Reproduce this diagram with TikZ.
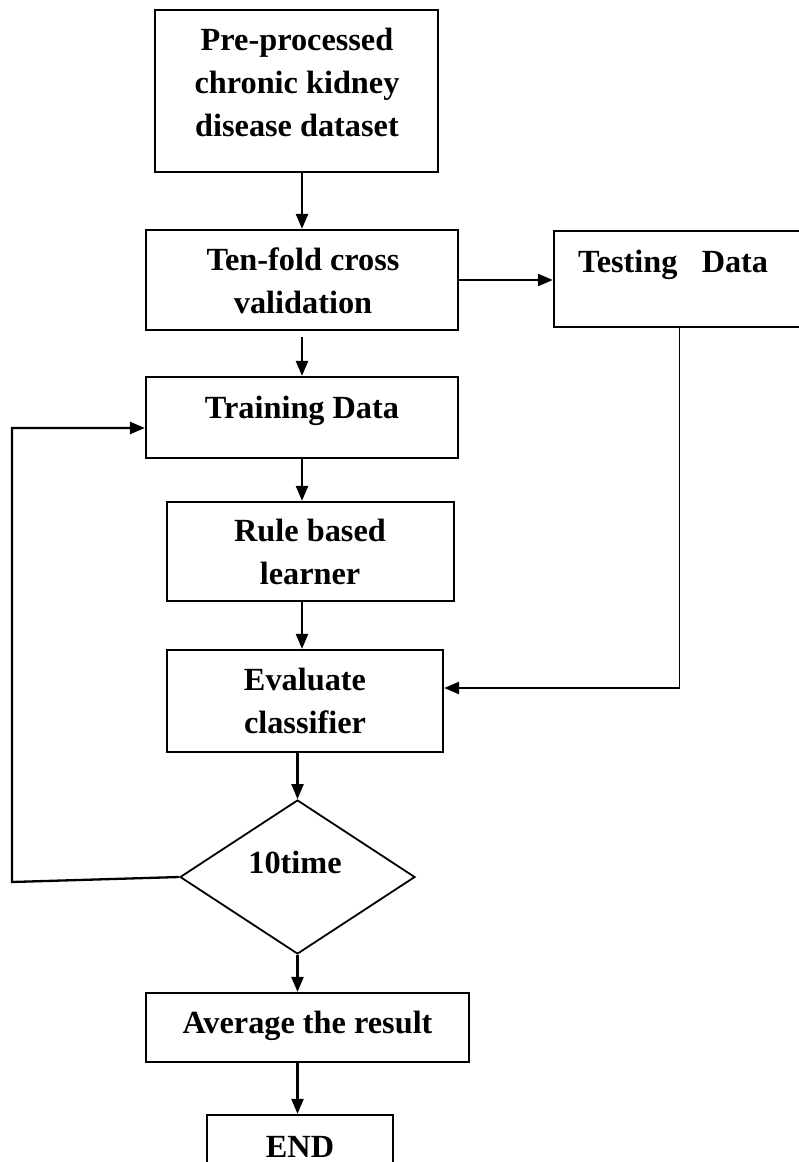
\documentclass[tikz,border=0pt]{standalone}
\usepackage{fontspec}
\setmainfont{Liberation Serif}
\usetikzlibrary{shapes.geometric,arrows.meta}
\begin{document}
\begin{tikzpicture}[x=1pt,y=-1pt,
  box/.style={draw,line width=2.2pt,inner sep=0pt},
  txt/.style={font=\bfseries\fontsize{32.3}{43}\selectfont,inner sep=0pt,align=center},
  arr/.style={line width=2.3pt,-{Triangle[length=15pt,width=12pt]}},
  plain/.style={line width=1.8pt}]
\useasboundingbox (0,0) rectangle (798,1162);
% boxes
\node[box,minimum width=283pt,minimum height=162pt] (b1) at (296.5,91) {};
\node[box,minimum width=312pt,minimum height=100pt] (b2) at (302,280) {};
\node[box,minimum width=251pt,minimum height=96pt] (test) at (679.5,279) {};
\node[box,minimum width=312pt,minimum height=81pt] (train) at (302,417.5) {};
\node[box,minimum width=287pt,minimum height=99pt] (rule) at (310.5,551.5) {};
\node[box,minimum width=276pt,minimum height=102pt] (eval) at (305,701) {};
\node[draw,diamond,line width=1.8pt,inner sep=0pt,minimum width=235pt,minimum height=154pt] (dia) at (297.5,877) {};
\node[box,minimum width=323pt,minimum height=69pt] (avg) at (307.5,1027.5) {};
\node[box,minimum width=186pt,minimum height=100pt] (endb) at (300,1165) {};
% texts
\node[txt] (t1) at (297,84.4) {\strut Pre-processed\\\strut chronic kidney\\\strut disease dataset};
\node[txt] (t2) at (303,283) {\strut Ten-fold cross\\\strut validation};
\node[txt,anchor=base west] (t3) at (578,272) {Testing~~~Data};
\node[txt,anchor=base] (t4) at (302,418) {Training Data};
\node[txt] (t5) at (310,554) {\strut Rule based\\\strut learner};
\node[txt] (t6) at (305,703) {\strut Evaluate\\\strut classifier};
\node[txt,anchor=base] (t7) at (295,873) {10time};
\node[txt,anchor=base] (t8) at (307.5,1033) {Average the result};
\node[txt,anchor=base] (t9) at (300,1157) {END};
% connectors
\coordinate (c1) at (12,882);
\draw[arr] (b1.south -| b2.north) -- (b2.north);
\draw[arr] (b2.east) -- (b2.east -| test.west);
\draw[arr] ([yshift=-6pt]b2.south) -- (train.north);
\draw[arr] (train.south) -- (train.south |- rule.north);
\draw[arr] (train.south |- rule.south) -- (train.south |- eval.north);
\draw[plain] (test.south) |- ([xshift=2pt,yshift=13pt]eval.east);
\draw[arr] ([xshift=235pt,yshift=13pt]eval.east) -- ([yshift=13pt]eval.east);
\draw[arr] (eval.south -| dia.north) -- (dia.north);
\draw[arr] (dia.west) -- (c1) |- ([yshift=-10.5pt]train.west);
\draw[arr] (dia.south) -- (dia.south |- avg.north);
\draw[arr] (avg.south -| dia.south) -- (dia.south |- endb.north);
\end{tikzpicture}
\end{document}
